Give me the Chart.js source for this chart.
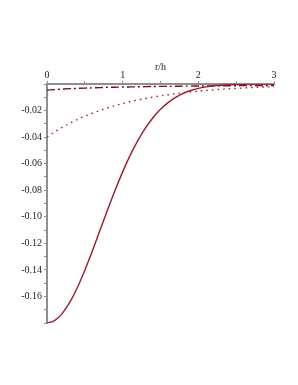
<!DOCTYPE html>
<html>
<head>
<meta charset="utf-8">
<script src="https://cdn.jsdelivr.net/npm/chart.js@4"></script>
<style>
  html, body { margin: 0; padding: 0; background: #fff; }
  #wrap { width: 298px; height: 385px; }
</style>
</head>
<body>
<div id="wrap"><canvas id="chart" width="298" height="385"></canvas></div>
<script>
// r/h sample positions
const rValues = [0, 0.1, 0.2, 0.3, 0.4, 0.5, 0.6, 0.7, 0.8, 0.9, 1.0,
  1.1, 1.2, 1.3, 1.4, 1.5, 1.6, 1.7, 1.8, 1.9, 2.0,
  2.1, 2.2, 2.3, 2.4, 2.5, 2.6, 2.7, 2.8, 2.9, 3.0];

// solid curve
const solidValues = [-0.1800, -0.1782, -0.1729, -0.1645, -0.1534, -0.1402, -0.1256, -0.1102, -0.0949, -0.0801, -0.0662,
  -0.0536, -0.0427, -0.0332, -0.0254, -0.0190, -0.0140, -0.0101, -0.0070, -0.0049, -0.0033,
  -0.0022, -0.0014, -0.0009, -0.0006, -0.0004, -0.0002, -0.0001, -0.0001, -0.0000, 0];

// dotted curve
const dottedValues = [-0.0400, -0.0362, -0.0327, -0.0296, -0.0268, -0.0243, -0.0220, -0.0199, -0.0180, -0.0163, -0.0147,
  -0.0133, -0.0120, -0.0109, -0.0099, -0.0089, -0.0081, -0.0073, -0.0066, -0.0060, -0.0054,
  -0.0049, -0.0044, -0.0040, -0.0036, -0.0033, -0.0030, -0.0027, -0.0024, -0.0022, -0.0020];

// dash-dot curve
const dashDotValues = [-0.0046, -0.0042, -0.0038, -0.0035, -0.0033, -0.0031, -0.0029, -0.0027, -0.0025, -0.0024, -0.0023,
  -0.0022, -0.0021, -0.0020, -0.0019, -0.0018, -0.0018, -0.0017, -0.0016, -0.0016, -0.0015,
  -0.0015, -0.0014, -0.0014, -0.0013, -0.0013, -0.0012, -0.0012, -0.0012, -0.0011, -0.0011];

const xTickLabels = ['0', '1', '2', '3'];
const yTickLabels = ['-0.02', '-0.04', '-0.06', '-0.08', '-0.10', '-0.12', '-0.14', '-0.16'];

const axisGray = '#8f8f8f';
const serif = "'Liberation Serif', 'DejaVu Serif', serif";

function pts(vals) {
  return rValues.map((r, i) => ({ x: r, y: vals[i] }));
}

const base = {
  showLine: true,
  pointRadius: 0,
  borderWidth: 1.4,
  cubicInterpolationMode: 'monotone',
  fill: false
};

new Chart(document.getElementById('chart').getContext('2d'), {
  type: 'scatter',
  data: {
    datasets: [
      Object.assign({}, base, { data: pts(solidValues), borderColor: '#9a1a2e' }),
      Object.assign({}, base, { data: pts(dottedValues), borderColor: '#a3283a', borderDash: [1.6, 4] }),
      Object.assign({}, base, { data: pts(dashDotValues), borderColor: '#7d0a16', borderDash: [8, 3, 2, 3] })
    ]
  },
  options: {
    responsive: false,
    animation: false,
    layout: { padding: { left: 0, right: 24, top: 0, bottom: 62 } },
    plugins: { legend: { display: false }, tooltip: { enabled: false } },
    scales: {
      x: {
        type: 'linear',
        position: 'top',
        min: 0,
        max: 3,
        afterFit: s => { s.height = 84; },
        border: { color: axisGray, width: 2 },
        grid: { drawOnChartArea: false, drawTicks: true, tickLength: 3, color: axisGray },
        ticks: {
          stepSize: 0.5,
          autoSkip: false,
          maxRotation: 0,
          padding: 0,
          color: '#222',
          font: { family: serif, size: 10 },
          callback: v => Number.isInteger(v) ? xTickLabels[v] : ''
        },
        title: {
          display: true,
          text: 'r/h',
          color: '#222',
          font: { family: serif, size: 10 },
          padding: { top: 61, bottom: 0 }
        }
      },
      y: {
        type: 'linear',
        min: -0.18,
        max: 0,
        afterFit: s => { s.width = 47; },
        border: { color: axisGray, width: 2 },
        grid: { drawOnChartArea: false, drawTicks: true, tickLength: 3, color: axisGray },
        ticks: {
          stepSize: 0.01,
          autoSkip: false,
          padding: 2,
          color: '#222',
          font: { family: serif, size: 10 },
          callback: v => {
            const k = Math.round(-v * 100);
            if (k % 2 !== 0 || k === 0 || k > 16) return '';
            return yTickLabels[k / 2 - 1];
          }
        }
      }
    }
  }
});
</script>
</body>
</html>
